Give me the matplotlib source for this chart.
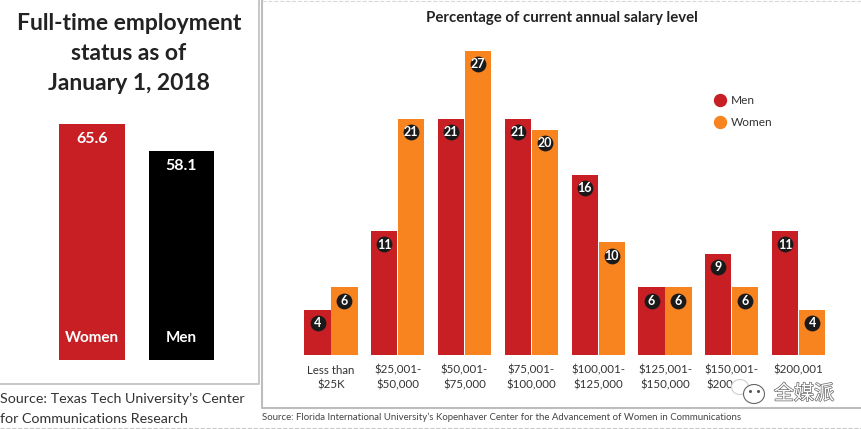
import matplotlib
matplotlib.use("Agg")
import matplotlib.pyplot as plt
import matplotlib.patheffects as pe
from matplotlib.lines import Line2D
from matplotlib.patches import Rectangle, Ellipse

plt.rcParams['font.family'] = ['Lato', 'Noto Sans CJK SC', 'DejaVu Sans']

W, H = 862, 429

# left chart
status_labels = ["Women", "Men"]
status_values = [65.6, 58.1]

# right chart
salary_levels = ["Less than\n$25K", "$25,001-\n$50,000", "$50,001-\n$75,000", "$75,001-\n$100,000",
                 "$100,001-\n$125,000", "$125,001-\n$150,000", "$150,001-\n$200,000", "$200,001"]
men = [4, 11, 21, 21, 16, 6, 9, 11]
women = [6, 21, 27, 20, 10, 6, 6, 4]

RED = "#C81F25"
ORANGE = "#F7841F"
BADGE = "#1A1A1A"
FRAME = "#BDBDBD"


def px_axes(fig, left, top, right, bottom):
    return fig.add_axes([left / W, 1 - bottom / H, (right - left) / W, (bottom - top) / H])


fig = plt.figure(figsize=(W / 100, H / 100), dpi=100, facecolor="white")

# overlay in pixel coordinates for panel frames and free text
bg = fig.add_axes([0, 0, 1, 1], zorder=0)
bg.set_xlim(0, W)
bg.set_ylim(H, 0)
bg.axis("off")
bg.plot([259, 259, 0], [0, 384, 384], color=FRAME, lw=1.2)
bg.plot([262, 262, 862], [0, 407.5, 407.5], color=FRAME, lw=1.5)
bg.plot([0, 862], [427.5, 427.5], color="#C8C8C8", lw=0.8, ls="--")
bg.plot([262, 862], [0.5, 0.5], color="#D8D8D8", lw=0.8, ls="--")

bg.text(129, 24, "Full-time employment", ha="center", va="center", fontsize=16.5, fontweight="bold", color="#222222")
bg.text(129, 54, "status as of", ha="center", va="center", fontsize=16.5, fontweight="bold", color="#222222")
bg.text(129, 83, "January 1, 2018", ha="center", va="center", fontsize=16.5, fontweight="bold", color="#222222")
bg.text(0, 399, "Source: Texas Tech University\u2019s Center", ha="left", va="center", fontsize=10.3, color="#333333")
bg.text(0, 419, "for Communications Research", ha="left", va="center", fontsize=10.3, color="#333333")
bg.text(262, 417, "Source: Florida International University\u2019s Kopenhaver Center for the Advancement of Women in Communications",
        ha="left", va="center", fontsize=6.9, color="#444444")
bg.text(562, 18, "Percentage of current annual salary level", ha="center", va="center", fontsize=10.8,
        fontweight="bold", color="#222222")

# left bars: centres 92 and 181.5 px, 3.6 px per percent, baseline at y=360
ax1 = px_axes(fig, 30, 100, 240, 360)
ax1.set_xlim((30 - 92) / 89.5, (240 - 92) / 89.5)
ax1.set_ylim(0, 260 / 3.59)
ax1.patch.set_alpha(0)
ax1.axis("off")
ax1.bar(range(2), status_values, width=0.73, color=[RED, "black"])
for i, (lab, v) in enumerate(zip(status_labels, status_values)):
    ax1.text(i, v - 4.0, f"{v}", ha="center", va="center", color="white", fontsize=11.5, fontweight="bold")
    ax1.text(i, 6, lab, ha="center", va="center", color="white", fontsize=11, fontweight="bold")

# right bars: group spacing 66.8 px, first group centre 331 px, 11.26 px per percent, baseline y=355
ax2 = px_axes(fig, 280, 40, 850, 355)
ax2.set_xlim((280 - 331) / 66.8, (850 - 331) / 66.8)
ax2.set_ylim(0, 315 / 11.26)
ax2.patch.set_alpha(0)
for s in ax2.spines.values():
    s.set_visible(False)
ax2.yaxis.set_visible(False)
ax2.tick_params(axis="x", length=0, pad=7)
ax2.set_xticks(range(len(salary_levels)))
ax2.set_xticklabels(salary_levels, fontsize=8.3, color="#333333", linespacing=1.4)

w = 0.39
xs = list(range(len(salary_levels)))
xm = [x - 0.202 for x in xs]
xw = [x + 0.202 for x in xs]
ax2.bar(xm, men, width=w, color=RED, label="Men")
ax2.bar(xw, women, width=w, color=ORANGE, label="Women")
for xp, vals in ((xm, men), (xw, women)):
    ax2.scatter(xp, [v - 1.17 for v in vals], s=130, color=BADGE, zorder=3, linewidths=0)
    for x, v in zip(xp, vals):
        ax2.text(x, v - 1.19, str(v), ha="center", va="center", color="white", fontsize=9, fontweight="bold", zorder=4)

handles = [Line2D([], [], marker="o", ls="", ms=8.6, color=RED), Line2D([], [], marker="o", ls="", ms=8.6, color=ORANGE)]
ax2.legend(handles, ["Men", "Women"], loc="upper left", bbox_to_anchor=((708 - 280) / 570, 260 / 315),
           frameon=False, fontsize=8.6, labelcolor="#333333", handletextpad=-0.1, labelspacing=0.95,
           borderpad=0, borderaxespad=0)

# watermark
wm = fig.add_axes([0, 0, 1, 1], zorder=5)
wm.set_xlim(0, W)
wm.set_ylim(H, 0)
wm.axis("off")
wm.patch.set_alpha(0)
wm.add_patch(Rectangle((733, 376), 30, 28, fc="white", ec="none"))
wm.add_patch(Ellipse((740, 387), 17, 15, fc="white", ec="#CFCFCF", lw=0.8))
wm.add_patch(Ellipse((754, 394), 21, 19, fc="white", ec="#666666", lw=0.8))
wm.plot([750, 758], [391, 391], ls="", marker="o", ms=1.2, color="#555555")
wm.text(804, 393, "全媒派", ha="center", va="center", fontsize=14.5, color="white",
        path_effects=[pe.withStroke(linewidth=1.0, foreground="#666666")])

fig.savefig("out.png", dpi=100)
